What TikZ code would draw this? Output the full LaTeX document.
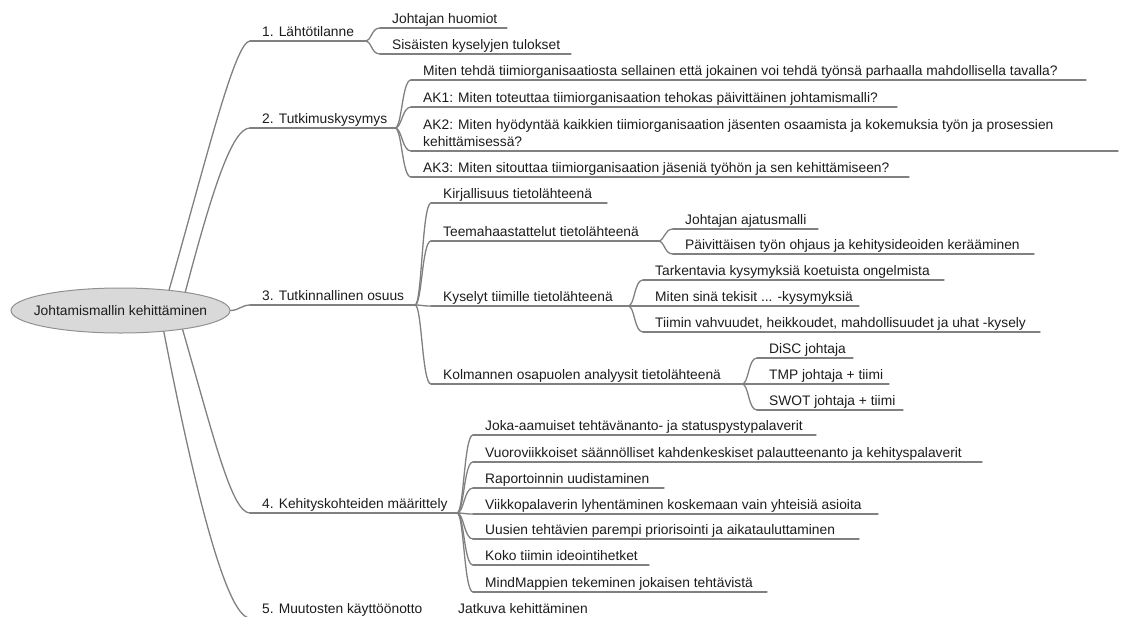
\documentclass[tikz,border=0pt]{standalone}
\usepackage{fontspec}
\setmainfont{Liberation Sans}
\usetikzlibrary{shapes.geometric}

\definecolor{linegray}{RGB}{128,128,128}
\definecolor{txtcol}{RGB}{28,28,28}
\definecolor{rootfill}{RGB}{217,217,217}
\definecolor{rootline}{RGB}{145,145,145}

\tikzset{
  ln/.style={draw=linegray, line width=1.3pt, line cap=round},
  tp/.style={anchor=base west, inner sep=0pt, text=txtcol, align=left,
             font=\fontsize{13.8}{16.5}\selectfont},
  rootnode/.style={ellipse, draw=rootline, fill=rootfill, line width=1pt,
             inner xsep=-9.5pt, inner ysep=0pt,
             minimum width=219pt, minimum height=45pt,
             text=txtcol, font=\fontsize{13.8}{16.5}\selectfont},
}

% a mind-map topic: name, line start x, line y, line end x, text
\newcommand\mmtopic[5]{%
  \coordinate (#1-in) at (#2,#3);
  \coordinate (#1-out) at (#4,#3);
  \node[tp] (#1) at ([xshift=12pt,yshift=5pt]#1-in) {#5};
  \draw[ln] (#1-in) -- (#1-out);
}
% curved link from the end of a parent topic to the start of a child topic
\newcommand\mmlink[2]{%
  \draw[ln] (#1-out) .. controls +(7,0) and +(-9,0) .. (#2-in);
}

\begin{document}
\begin{tikzpicture}[x=1pt,y=-1pt]
\useasboundingbox (0,0) rectangle (1123,616);
\clip (0,0) rectangle (1123,616);

% main topics
\mmtopic{b1}{250}{41}{365}{1. Lähtötilanne}
\mmtopic{b2}{250}{128}{395}{2. Tutkimuskysymys}
\mmtopic{b3}{250}{305}{415}{3. Tutkinnallinen osuus}
\mmtopic{b4}{250}{513}{457}{4. Kehityskohteiden määrittely}
\mmtopic{b5}{250}{618}{432}{5. Muutosten käyttöönotto}

% 1
\mmtopic{b1a}{380}{28}{507}{Johtajan huomiot}
\mmtopic{b1b}{380}{54}{571}{Sisäisten kyselyjen tulokset}

% 2
\mmtopic{b2a}{411}{80}{1086}{Miten tehdä tiimiorganisaatiosta sellainen että jokainen voi tehdä työnsä parhaalla mahdollisella tavalla?}
\mmtopic{b2b}{411}{107}{897}{AK1: Miten toteuttaa tiimiorganisaation tehokas päivittäinen johtamismalli?}
\mmtopic{b2c}{411}{151}{1118}{AK2: Miten hyödyntää kaikkien tiimiorganisaation jäsenten osaamista ja kokemuksia työn ja prosessien\\kehittämisessä?}
\mmtopic{b2d}{411}{177}{909}{AK3: Miten sitouttaa tiimiorganisaation jäseniä työhön ja sen kehittämiseen?}

% 3
\mmtopic{b3a}{431}{203}{607}{Kirjallisuus tietolähteenä}
\mmtopic{b3b}{431}{241}{658}{Teemahaastattelut tietolähteenä}
\mmtopic{b3c}{431}{306}{628}{Kyselyt tiimille tietolähteenä}
\mmtopic{b3d}{431}{384}{742}{Kolmannen osapuolen analyysit tietolähteenä}
\mmtopic{b3b1}{673}{229}{818}{Johtajan ajatusmalli}
\mmtopic{b3b2}{673}{254}{1034}{Päivittäisen työn ohjaus ja kehitysideoiden kerääminen}
\mmtopic{b3c1}{643}{280}{944}{Tarkentavia kysymyksiä koetuista ongelmista}
\mmtopic{b3c2}{643}{306}{859}{Miten sinä tekisit ... -kysymyksiä}
\mmtopic{b3c3}{643}{332}{1040}{Tiimin vahvuudet, heikkoudet, mahdollisuudet ja uhat -kysely}
\mmtopic{b3d1}{757}{358}{853}{DiSC johtaja}
\mmtopic{b3d2}{757}{384}{889}{TMP johtaja + tiimi}
\mmtopic{b3d3}{757}{410}{903}{SWOT johtaja + tiimi}

% 4
\mmtopic{b4a}{473}{435}{816}{Joka-aamuiset tehtävänanto- ja statuspystypalaverit}
\mmtopic{b4b}{473}{462}{982}{Vuoroviikkoiset säännölliset kahdenkeskiset palautteenanto ja kehityspalaverit}
\mmtopic{b4c}{473}{488}{664}{Raportoinnin uudistaminen}
\mmtopic{b4d}{473}{514}{878}{Viikkopalaverin lyhentäminen koskemaan vain yhteisiä asioita}
\mmtopic{b4e}{473}{539}{859}{Uusien tehtävien parempi priorisointi ja aikatauluttaminen}
\mmtopic{b4f}{473}{565}{649}{Koko tiimin ideointihetket}
\mmtopic{b4g}{473}{592}{767}{MindMappien tekeminen jokaisen tehtävistä}

% 5
\mmtopic{b5a}{446}{618}{620}{Jatkuva kehittäminen}

% central topic and its branches
\node[rootnode] (root) at (120.5,310.5) {Johtamismallin kehittäminen};
\draw[ln] (root.23)  .. controls +(37,-130) and +(-15,0) .. (b1-in);
\draw[ln] (root.16)  .. controls +(27,-102) and +(-18,0) .. (b2-in);
\draw[ln] (root.east) .. controls +(8,0) and +(-8,0) .. (b3-in);
\draw[ln] (root.-17) .. controls +(32,111) and +(-18,0) .. (b4-in);
\draw[ln] (root.-26) .. controls +(27,139) and +(-25,0) .. (b5-in);

% sub-branches
\mmlink{b1}{b1a} \mmlink{b1}{b1b}
\mmlink{b2}{b2a} \mmlink{b2}{b2b} \mmlink{b2}{b2c} \mmlink{b2}{b2d}
\mmlink{b3}{b3a} \mmlink{b3}{b3b} \mmlink{b3}{b3c} \mmlink{b3}{b3d}
\mmlink{b3b}{b3b1} \mmlink{b3b}{b3b2}
\mmlink{b3c}{b3c1} \mmlink{b3c}{b3c2} \mmlink{b3c}{b3c3}
\mmlink{b3d}{b3d1} \mmlink{b3d}{b3d2} \mmlink{b3d}{b3d3}
\mmlink{b4}{b4a} \mmlink{b4}{b4b} \mmlink{b4}{b4c} \mmlink{b4}{b4d}
\mmlink{b4}{b4e} \mmlink{b4}{b4f} \mmlink{b4}{b4g}
\mmlink{b5}{b5a}
\end{tikzpicture}
\end{document}
